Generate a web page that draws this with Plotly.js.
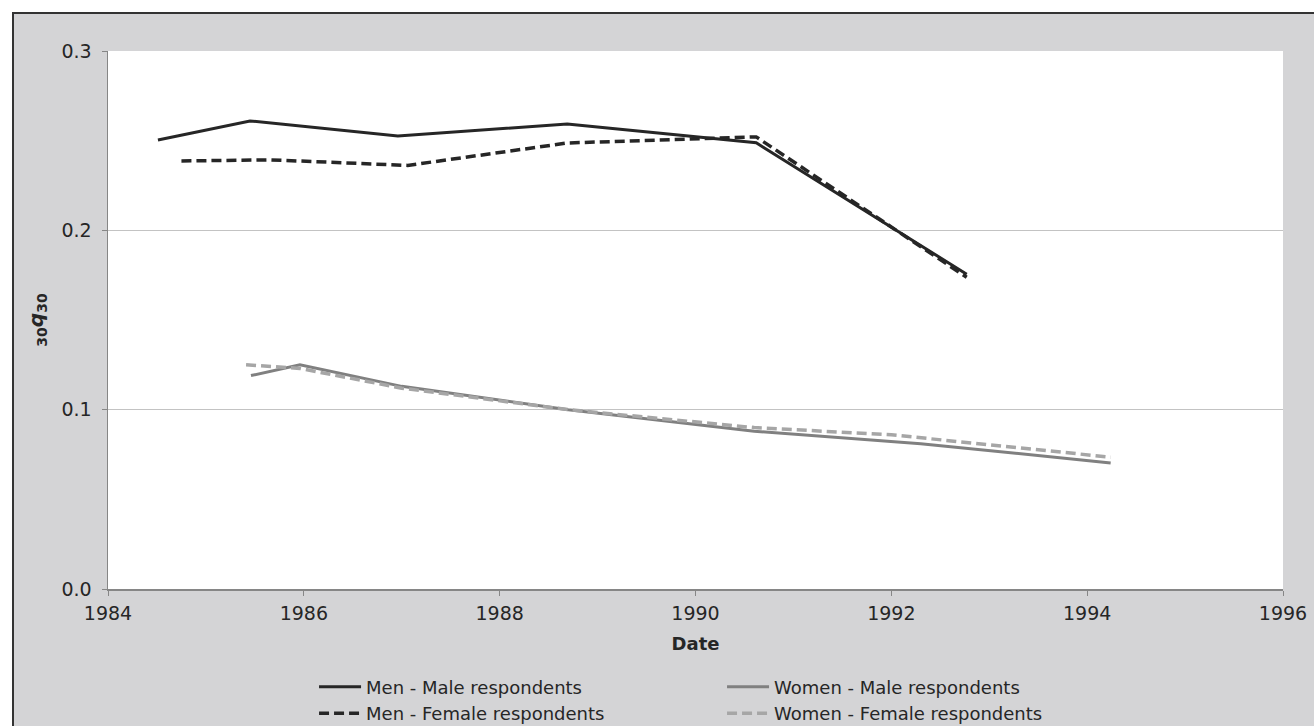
<!DOCTYPE html>
<html>
<head>
<meta charset="utf-8">
<script src="https://cdn.plot.ly/plotly-3.0.1.min.js"></script>
<style>
  html, body { margin: 0; padding: 0; background: #ffffff; }
  #frame { position: absolute; left: 12px; top: 12px; width: 1320px; height: 730px;
           border: 2px solid #333333; background: #d4d4d6; }
  #chart { position: absolute; left: 0; top: 0; width: 1314px; height: 726px; }
</style>
</head>
<body>
<div id="frame"></div>
<div id="chart"></div>
<script>
// Data
const menMaleX   = [1984.51, 1985.45, 1986.96, 1988.69, 1990.62, 1992.77];
const menMaleY   = [0.2504, 0.2610, 0.2526, 0.2593, 0.2488, 0.1755];

const menFemaleX = [1984.75, 1985.66, 1987.06, 1988.69, 1990.62, 1992.77];
const menFemaleY = [0.2387, 0.2393, 0.2362, 0.2487, 0.2521, 0.1738];

const womenMaleX = [1985.46, 1985.96, 1987.0, 1988.7, 1990.6, 1992.3, 1994.24];
const womenMaleY = [0.119, 0.125, 0.113, 0.100, 0.088, 0.081, 0.0703];

const womenFemaleX = [1985.41, 1985.96, 1987.0, 1988.7, 1990.6, 1992.0, 1994.24];
const womenFemaleY = [0.125, 0.123, 0.112, 0.100, 0.090, 0.086, 0.0735];

const names = ['Men - Male respondents', 'Women - Male respondents',
               'Men - Female respondents', 'Women - Female respondents'];

const xTicks = [1984, 1986, 1988, 1990, 1992, 1994, 1996];
const yTicks = [0.0, 0.1, 0.2, 0.3];
const yTickText = ['0.0', '0.1', '0.2', '0.3'];

const FONT = 'DejaVu Sans, Verdana, sans-serif';

const traces = [
  { x: menMaleX, y: menMaleY, name: names[0], mode: 'lines',
    line: { color: '#262626', width: 3 } },
  { x: womenMaleX, y: womenMaleY, name: names[1], mode: 'lines',
    line: { color: '#808080', width: 3 } },
  { x: menFemaleX, y: menFemaleY, name: names[2], mode: 'lines',
    line: { color: '#262626', width: 3.5, dash: '10px,5px' } },
  { x: womenFemaleX, y: womenFemaleY, name: names[3], mode: 'lines',
    line: { color: '#a6a6a6', width: 3.5, dash: '10px,5px' } }
];

const layout = {
  width: 1314, height: 726,
  margin: { l: 108, r: 31, t: 51, b: 137, autoexpand: false },
  paper_bgcolor: 'rgba(0,0,0,0)',
  plot_bgcolor: '#ffffff',
  font: { family: FONT, size: 19, color: '#262626' },
  showlegend: true,
  xaxis: {
    range: [1984, 1996],
    tickvals: xTicks,
    ticktext: xTicks.map(String),
    showgrid: false, zeroline: false,
    showline: true, linecolor: '#868686', linewidth: 1.5,
    ticks: 'outside', ticklen: 5, tickcolor: '#868686',
    ticklabelstandoff: 2,
    tickfont: { family: FONT, size: 19, color: '#262626' },
    title: { text: '<b>Date</b>', font: { family: FONT, size: 18, color: '#262626' }, standoff: 14 }
  },
  yaxis: {
    range: [0, 0.3],
    tickvals: yTicks,
    ticktext: yTickText,
    showgrid: true, gridcolor: '#c3c3c3', gridwidth: 1.5,
    zeroline: false,
    showline: true, linecolor: '#868686', linewidth: 1.5,
    ticks: 'outside', ticklen: 5, tickcolor: '#868686',
    ticklabelstandoff: 6,
    tickfont: { family: FONT, size: 19, color: '#262626' },
    title: { text: '<b><sub>30</sub><i>q</i><sub>30</sub></b>',
             font: { family: FONT, size: 20, color: '#262626' }, standoff: 12 }
  },
  legend: {
    orientation: 'h',
    xref: 'container', yref: 'container',
    x: 0.239, xanchor: 'left',
    y: 0.079, yanchor: 'top',
    bgcolor: 'rgba(0,0,0,0)',
    font: { family: FONT, size: 18, color: '#262626' },
    entrywidth: 351, entrywidthmode: 'pixels',
    itemwidth: 42,
    traceorder: 'normal'
  }
};

Plotly.newPlot('chart', traces, layout, { displayModeBar: false, staticPlot: true });
</script>
</body>
</html>
